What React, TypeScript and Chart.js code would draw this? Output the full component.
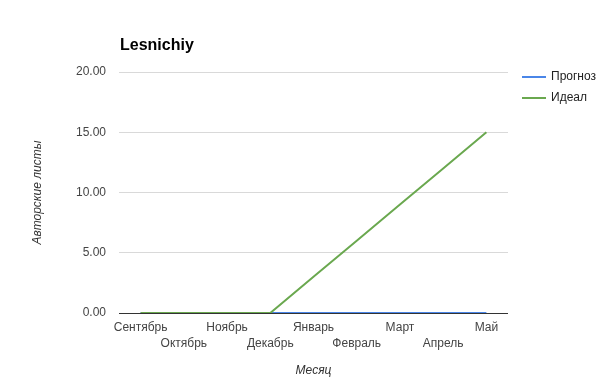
import React, { useEffect, useRef } from "react";
import { Chart, registerables } from "chart.js";

Chart.register(...registerables);

const chartTitle = "Lesnichiy";
const months = ["Сентябрь", "Октябрь", "Ноябрь", "Декабрь", "Январь", "Февраль", "Март", "Апрель", "Май"];
const forecast = [0, 0, 0, 0, 0, 0, 0, 0, 0];
const ideal = [0, 0, 0, 0, 3, 6, 9, 12, 15];
const seriesNames = ["Прогноз", "Идеал"];
const seriesColors = ["#4a86e8", "#6aa84f"];
const yTitle = "Авторские листы";
const xTitle = "Месяц";
const yMin = 0;
const yMax = 20;
const yStep = 5;

const FONT = "Arial, 'Liberation Sans', sans-serif";

const overlayPlugin = {
  id: "overlay",
  afterDraw(chart: any) {
    const ctx = chart.ctx;
    ctx.save();
    ctx.font = `bold 16px ${FONT}`;
    ctx.fillStyle = "#000";
    ctx.textBaseline = "alphabetic";
    ctx.textAlign = "left";
    ctx.fillText(chartTitle, 120, 50);

    ctx.font = `12px ${FONT}`;
    ctx.fillStyle = "#222";
    ctx.textBaseline = "middle";
    chart.data.datasets.forEach((ds: any, i: number) => {
      const y = 77 + i * 21;
      ctx.strokeStyle = ds.borderColor;
      ctx.lineWidth = 2;
      ctx.beginPath();
      ctx.moveTo(522, y);
      ctx.lineTo(546, y);
      ctx.stroke();
      ctx.fillText(ds.label, 551, y);
    });
    ctx.restore();
  },
};

export default function App() {
  const ref = useRef<HTMLCanvasElement>(null);
  useEffect(() => {
    document.body.style.margin = "0";
    const chart = new Chart(ref.current!, {
      type: "line",
      data: {
        labels: months,
        datasets: [
          {
            label: seriesNames[0],
            data: forecast,
            borderColor: seriesColors[0],
            backgroundColor: seriesColors[0],
            borderWidth: 2,
            pointRadius: 0,
            order: 1,
          },
          {
            label: seriesNames[1],
            data: ideal,
            borderColor: seriesColors[1],
            backgroundColor: seriesColors[1],
            borderWidth: 2,
            pointRadius: 0,
            order: 0,
          },
        ],
      },
      options: {
        animation: false,
        responsive: false,
        layout: { padding: { left: 0, top: 72, right: 97, bottom: 0 } },
        plugins: {
          legend: { display: false },
          tooltip: { enabled: false },
          title: { display: false },
        },
        scales: {
          x: {
            offset: true,
            grid: { display: false, drawTicks: false },
            border: { display: false },
            ticks: {
              autoSkip: false,
              maxRotation: 0,
              minRotation: 0,
              padding: 7,
              color: "#444",
              font: { family: FONT, size: 12, lineHeight: 1.333 },
              callback: (_v: any, i: number) => (i % 2 === 0 ? [months[i], ""] : ["", months[i]]),
            },
            title: {
              display: true,
              text: xTitle,
              color: "#333",
              font: { family: FONT, size: 12, style: "italic" },
              padding: { top: 0, bottom: 5 },
            },
            afterFit: (s: any) => {
              s.height = 70;
            },
          },
          y: {
            min: yMin,
            max: yMax,
            ticks: {
              stepSize: yStep,
              padding: 13,
              color: "#444",
              font: { family: FONT, size: 12 },
              callback: (v: any) => Number(v).toFixed(2),
            },
            grid: {
              drawTicks: false,
              color: (c: any) => (c.tick && c.tick.value === 0 ? "#333" : "#d9d9d9"),
              lineWidth: 1,
            },
            border: { display: false },
            title: {
              display: true,
              text: yTitle,
              color: "#333",
              font: { family: FONT, size: 12, style: "italic" },
              padding: { top: 30, bottom: 0 },
            },
            afterFit: (s: any) => {
              s.width = 119;
            },
          },
        },
      },
      plugins: [overlayPlugin],
    });
    return () => chart.destroy();
  }, []);
  return (
    <div style={{ position: "fixed", left: 0, top: 0, width: 605, height: 383, background: "#fff" }}>
      <canvas ref={ref} width={605} height={383} />
    </div>
  );
}
